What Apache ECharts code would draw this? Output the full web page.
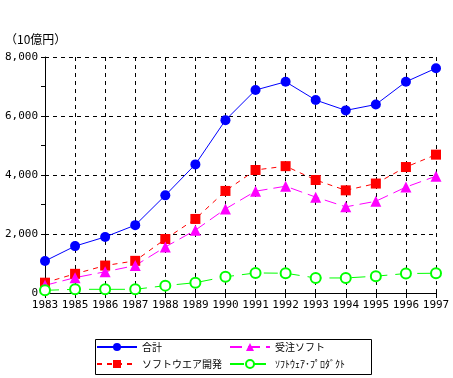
<!DOCTYPE html>
<html><head><meta charset="utf-8">
<script src="https://cdn.jsdelivr.net/npm/echarts@6/dist/echarts.min.js"></script>
<style>html,body{margin:0;padding:0;background:#fff}#c{width:453px;height:378px}</style>
</head><body><div id="c"></div>
<script>
const years = ['1983','1985','1986','1987','1988','1989','1990','1991','1992','1993','1994','1995','1996','1997'];
const total = [1085,1590,1900,2300,3310,4360,5860,6880,7160,6540,6190,6390,7160,7620];
const devel = [350,650,930,1090,1830,2510,3460,4170,4300,3830,3480,3710,4270,4690];
const order = [260,520,720,930,1560,2130,2850,3450,3620,3250,2920,3110,3590,3960];
const product = [90,125,125,125,250,350,550,680,670,510,510,570,660,670];
const yTicks = [0,2000,4000,6000,8000];
const unitLabel = '（10億円）';
const names = ['合計','ソフトウエア開発','受注ソフト','ｿﾌﾄｳｪｱ･ﾌﾟﾛﾀﾞｸﾄ'];

const font = '"Noto Sans CJK JP", "DejaVu Sans Mono", monospace';
const chart = echarts.init(document.getElementById('c'));
const legendBase = { orient: 'vertical', top: 340, height: 36, itemWidth: 40, itemHeight: 10, itemGap: 3, padding: 0,
  textStyle: { fontSize: 10, color: '#000', fontFamily: font, lineHeight: 14 } };
chart.setOption({
  animation: false,
  backgroundColor: '#fff',
  title: { text: unitLabel, left: 5, top: 33, padding: 0, textStyle: { fontSize: 12, fontWeight: 'normal', color: '#000', fontFamily: font } },
  grid: { left: 45, right: 17, top: 57, bottom: 85 },
  xAxis: {
    type: 'category', data: years, boundaryGap: false,
    axisLine: { lineStyle: { color: '#000', width: 1 } },
    axisTick: { show: true, length: 5, lineStyle: { color: '#000' } },
    axisLabel: { color: '#000', fontSize: 11, fontFamily: '"DejaVu Sans Mono", monospace', margin: 7, interval: 0 },
    splitLine: { show: true, lineStyle: { color: '#000', type: [4, 4], width: 1 } }
  },
  yAxis: {
    type: 'value', min: 0, max: 8000, interval: 2000,
    axisLine: { show: true, lineStyle: { color: '#000', width: 1 } },
    axisTick: { show: true, length: 4, lineStyle: { color: '#000' } },
    minorTick: { show: true, splitNumber: 2, length: 4, lineStyle: { color: '#000' } },
    axisLabel: { color: '#000', fontSize: 11, fontFamily: '"DejaVu Sans Mono", monospace', margin: 7,
      formatter: v => yTicks.includes(v) ? v.toLocaleString('en-US') : '' },
    splitLine: { show: true, lineStyle: { color: '#000', type: [4, 4], width: 1 } }
  },
  legend: [
    Object.assign({ data: [names[0], names[1]], left: 96 }, legendBase),
    Object.assign({ data: [names[2], names[3]], left: 229 }, legendBase)
  ],
  graphic: [{ type: 'rect', left: 93, top: 337, shape: { width: 276, height: 35 }, style: { fill: 'none', stroke: '#000', lineWidth: 1 } }],
  series: [
    { name: names[0], type: 'line', data: total, symbol: 'circle', symbolSize: 10,
      itemStyle: { color: '#0000ff' }, lineStyle: { color: '#0000ff', width: 1 } },
    { name: names[1], type: 'line', data: devel, symbol: 'rect', symbolSize: 10,
      itemStyle: { color: '#ff0000' }, lineStyle: { color: '#ff0000', width: 1, type: [5, 5] } },
    { name: names[2], type: 'line', data: order, symbol: 'triangle', symbolSize: 11,
      itemStyle: { color: '#ff00ff' }, lineStyle: { color: '#ff00ff', width: 1, type: [12, 6] } },
    { name: names[3], type: 'line', data: product, symbol: 'emptyCircle', symbolSize: 10,
      itemStyle: { color: '#00ff00', borderColor: '#00ff00', borderWidth: 1 }, lineStyle: { color: '#00ff00', width: 1, type: [14, 8] } }
  ]
});
</script></body></html>
